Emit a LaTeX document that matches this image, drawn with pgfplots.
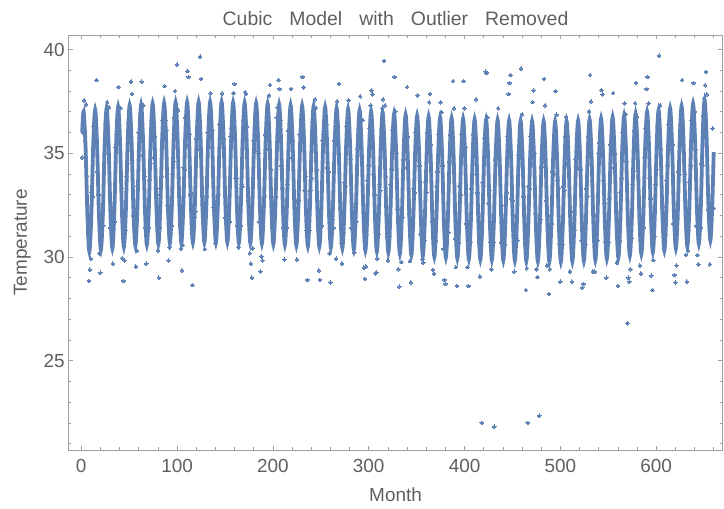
\documentclass[border=0pt]{standalone}
\usepackage{fontspec}
\setmainfont{Liberation Sans}
\usepackage{pgfplots}
\usepackage{pgfplotstable}
\pgfplotsset{compat=1.18}

\definecolor{mblue}{RGB}{94,129,181}
\definecolor{framegray}{RGB}{160,160,160}
\definecolor{labelgray}{RGB}{95,95,95}

% monthly temperatures
\pgfplotstableread{
t T
1 34.8
2 36.0
3 37.55
4 35.6
5 37.36
6 33.9
7 31.1
8 28.85
9 29.39
10 29.92
11 33.1
12 32.9
13 36.3
14 36.5
15 35.3
16 38.53
17 34.1
18 33.0
19 30.18
20 29.24
21 31.8
22 32.0
23 31.5
24 35.0
25 36.4
26 36.1
27 37.46
28 36.3
29 37.22
30 31.4
31 32.2
32 31.1
33 29.68
34 32.4
35 31.7
36 35.3
37 35.9
38 35.7
39 38.19
40 35.5
41 37.18
42 33.3
43 29.94
44 28.85
45 29.83
46 31.3
47 33.9
48 34.5
49 36.5
50 36.4
51 36.7
52 38.45
53 37.86
54 32.0
55 32.2
56 32.3
57 29.54
58 30.31
59 33.4
60 36.0
61 35.7
62 36.8
63 38.45
64 34.9
65 37.31
66 33.9
67 31.4
68 29.68
69 32.0
70 31.4
71 33.7
72 34.5
73 36.6
74 36.2
75 36.7
76 34.8
77 35.8
78 32.9
79 33.0
80 30.31
81 29.00
82 31.4
83 33.3
84 33.9
85 36.6
86 35.7
87 38.24
88 36.6
89 36.1
90 32.5
91 29.83
92 30.47
93 31.2
94 31.5
95 34.0
96 34.6
97 36.7
98 38.0
99 35.8
100 39.27
101 37.07
102 33.8
103 31.5
104 30.42
105 29.35
106 30.57
107 34.3
108 34.2
109 36.7
110 35.4
111 38.96
112 38.68
113 35.9
114 33.0
115 33.1
116 28.65
117 31.6
118 31.9
119 32.2
120 35.7
121 35.2
122 36.7
123 35.9
124 39.65
125 38.58
126 32.5
127 31.8
128 32.6
129 30.38
130 32.5
131 32.9
132 36.0
133 35.3
134 36.5
135 37.89
136 36.1
137 36.1
138 32.4
139 32.0
140 30.67
141 32.7
142 32.6
143 33.0
144 36.4
145 36.0
146 36.9
147 37.89
148 35.5
149 35.7
150 31.9
151 32.1
152 32.3
153 31.8
154 31.8
155 31.7
156 35.8
157 36.2
158 36.0
159 37.90
160 38.34
161 33.8
162 33.8
163 31.5
164 30.47
165 32.2
166 31.5
167 33.5
168 33.4
169 36.6
170 36.8
171 37.95
172 37.86
173 36.3
174 32.7
175 31.9
176 30.18
177 29.68
178 29.00
179 30.42
180 35.6
181 35.1
182 36.6
183 35.8
184 35.7
185 35.0
186 31.7
187 29.30
188 30.03
189 29.83
190 32.4
191 32.9
192 35.9
193 35.2
194 36.4
195 36.6
196 37.79
197 38.29
198 34.2
199 31.4
200 31.3
201 32.6
202 32.5
203 32.9
204 36.73
205 37.22
206 38.53
207 38.10
208 36.6
209 34.4
210 33.3
211 31.4
212 29.88
213 31.7
214 31.4
215 33.5
216 36.1
217 35.6
218 36.8
219 38.10
220 34.8
221 35.6
222 32.8
223 32.6
224 32.2
225 29.88
226 32.2
227 32.7
228 35.9
229 35.5
230 36.6
231 38.68
232 38.18
233 33.2
234 33.9
235 31.3
236 28.90
237 32.3
238 31.3
239 33.2
240 33.8
241 36.5
242 35.6
243 36.5
244 37.60
245 37.18
246 34.2
247 31.3
248 29.35
249 28.90
250 31.6
251 31.5
252 35.6
253 35.9
254 35.8
255 35.6
256 36.4
257 34.3
258 34.1
259 30.17
260 28.77
261 31.7
262 31.8
263 31.4
264 35.6
265 36.0
266 29.92
267 37.50
268 36.4
269 38.34
270 32.4
271 30.67
272 29.68
273 31.0
274 31.2
275 33.6
276 33.4
277 36.3
278 35.5
279 37.55
280 35.4
281 34.7
282 31.4
283 32.2
284 31.1
285 30.21
286 32.4
287 31.7
288 35.2
289 35.7
290 35.6
291 37.75
292 35.3
293 34.9
294 36.60
295 29.49
296 28.95
297 29.54
298 31.1
299 33.7
300 34.4
301 36.2
302 37.31
303 38.03
304 37.84
305 34.0
306 33.0
307 29.20
308 29.24
309 29.92
310 31.1
311 33.5
312 33.2
313 36.2
314 37.17
315 37.60
316 39.45
317 37.31
318 33.9
319 31.0
320 29.83
321 30.7
322 31.0
323 33.5
324 34.2
325 36.1
326 35.3
327 38.68
328 37.02
329 35.0
330 32.3
331 29.41
332 28.57
333 31.7
334 29.76
335 31.9
336 34.7
337 34.3
338 35.5
339 36.2
340 38.19
341 35.8
342 32.1
343 29.80
344 28.77
345 30.7
346 30.9
347 33.3
348 33.1
349 36.0
350 35.2
351 37.79
352 35.1
353 34.4
354 31.1
355 31.8
356 29.89
357 29.73
358 30.8
359 33.6
360 33.1
361 36.0
362 36.0
363 37.46
364 37.86
365 35.4
366 31.7
367 29.38
368 29.20
369 30.7
370 30.8
371 33.4
372 34.1
373 35.9
374 35.8
375 37.46
376 36.98
377 34.4
378 30.39
379 28.90
380 28.70
381 31.4
382 31.7
383 31.2
384 34.6
385 35.9
386 35.6
387 36.2
388 38.48
389 37.17
390 30.9
391 29.51
392 28.61
393 31.1
394 30.7
395 33.4
396 33.0
397 35.9
398 35.8
399 38.48
400 37.17
401 35.3
402 31.6
403 29.51
404 28.61
405 30.6
406 30.7
407 33.3
408 34.0
409 35.9
410 35.7
411 36.0
412 37.60
413 33.1
414 33.1
415 30.7
416 29.06
417 30.7
418 22.01
419 33.6
420 33.4
421 35.7
422 38.93
423 38.87
424 36.73
425 32.6
426 33.2
427 30.7
428 29.41
429 31.3
430 30.7
431 21.82
432 34.7
433 35.2
434 35.1
435 37.17
436 34.8
437 34.4
438 30.7
439 31.7
440 30.5
441 31.7
442 30.6
443 32.5
444 33.1
445 35.8
446 37.86
447 38.39
448 38.77
449 32.8
450 32.7
451 32.0
452 29.29
453 30.9
454 30.9
455 30.8
456 34.9
457 35.3
458 35.2
459 39.08
460 36.88
461 32.9
462 32.9
463 30.6
464 28.41
465 29.46
466 22.01
467 33.4
468 33.3
469 35.8
470 34.5
471 37.47
472 38.03
473 35.0
474 32.1
475 29.41
476 29.03
477 31.6
478 22.35
479 31.8
480 34.3
481 34.6
482 35.4
483 38.58
484 37.31
485 32.7
486 29.59
487 31.2
488 28.22
489 29.41
490 32.0
491 31.6
492 34.1
493 34.0
494 35.3
495 38.00
496 36.86
497 33.7
498 33.3
499 30.6
500 28.81
501 30.8
502 30.6
503 33.4
504 33.2
505 35.8
506 36.76
507 34.5
508 35.8
509 33.8
510 29.29
511 32.2
512 28.81
513 30.7
514 31.0
515 31.3
516 34.7
517 34.3
518 35.8
519 35.0
520 34.9
521 34.2
522 30.8
523 28.52
524 28.70
525 31.0
526 30.6
527 33.3
528 32.9
529 35.8
530 37.02
531 38.77
532 37.50
533 33.7
534 29.29
535 32.0
536 29.29
537 31.1
538 31.2
539 30.8
540 35.0
541 35.5
542 34.9
543 38.04
544 37.84
545 33.7
546 32.6
547 30.7
548 29.00
549 31.0
550 30.7
551 32.8
552 35.4
553 35.1
554 36.2
555 37.90
556 34.3
557 35.0
558 32.2
559 29.73
560 28.61
561 31.4
562 30.8
563 33.1
564 33.8
565 36.0
566 35.6
567 37.41
568 36.88
569 34.6
570 26.81
571 29.00
572 28.81
573 29.41
574 30.9
575 33.5
576 34.1
577 36.1
578 37.41
579 38.39
580 36.76
581 33.9
582 32.9
583 29.59
584 29.20
585 31.6
586 31.8
587 31.4
588 34.8
589 36.2
590 38.10
591 38.68
592 37.41
593 33.8
594 32.8
595 29.10
596 28.41
597 29.85
598 31.0
599 33.5
600 34.2
601 36.3
602 35.5
603 39.70
604 37.31
605 35.2
606 32.4
607 32.4
608 31.5
609 31.0
610 31.1
611 33.7
612 34.4
613 36.4
614 36.3
615 36.6
616 35.2
617 35.4
618 31.6
619 29.14
620 28.77
621 29.59
622 31.8
623 34.1
624 34.0
625 36.4
626 35.4
627 38.53
628 36.5
629 34.5
630 34.0
631 30.10
632 28.81
633 30.31
634 31.3
635 33.6
636 34.4
637 36.6
638 36.2
639 38.39
640 37.00
641 35.2
642 31.5
643 30.09
644 29.65
645 31.9
646 31.4
647 34.5
648 34.4
649 36.8
650 37.65
651 38.28
652 38.92
653 37.84
654 32.3
655 32.5
656 29.65
657 32.5
658 32.2
659 36.20
660 32.35
}\datapoints

% fitted cubic-trend + annual cycle, sampled every two months
\pgfplotstableread{
t T
1 36.01
2.5 37.02
4.5 35.33
6.5 31.95
8.5 30.26
10.5 31.95
12.5 35.41
14.5 37.10
16.5 35.41
18.5 32.03
20.5 30.34
22.5 32.03
24.5 35.49
26.5 37.18
28.5 35.49
30.5 32.11
32.5 30.42
34.5 32.11
36.5 35.55
38.5 37.24
40.5 35.55
42.5 32.17
44.5 30.48
46.5 32.17
48.5 35.61
50.5 37.30
52.5 35.61
54.5 32.23
56.5 30.54
58.5 32.23
60.5 35.66
62.5 37.35
64.5 35.66
66.5 32.28
68.5 30.59
70.5 32.28
72.5 35.70
74.5 37.39
76.5 35.70
78.5 32.32
80.5 30.63
82.5 32.32
84.5 35.74
86.5 37.43
88.5 35.74
90.5 32.36
92.5 30.67
94.5 32.36
96.5 35.76
98.5 37.45
100.5 35.76
102.5 32.38
104.5 30.69
106.5 32.38
108.5 35.77
110.5 37.46
112.5 35.77
114.5 32.39
116.5 30.70
118.5 32.39
120.5 35.78
122.5 37.47
124.5 35.78
126.5 32.40
128.5 30.71
130.5 32.40
132.5 35.78
134.5 37.47
136.5 35.78
138.5 32.40
140.5 30.71
142.5 32.40
144.5 35.78
146.5 37.47
148.5 35.78
150.5 32.40
152.5 30.71
154.5 32.40
156.5 35.76
158.5 37.45
160.5 35.76
162.5 32.38
164.5 30.69
166.5 32.38
168.5 35.74
170.5 37.43
172.5 35.74
174.5 32.36
176.5 30.67
178.5 32.36
180.5 35.72
182.5 37.41
184.5 35.72
186.5 32.34
188.5 30.65
190.5 32.34
192.5 35.69
194.5 37.38
196.5 35.69
198.5 32.31
200.5 30.62
202.5 32.31
204.5 35.66
206.5 37.35
208.5 35.66
210.5 32.28
212.5 30.59
214.5 32.28
216.5 35.63
218.5 37.32
220.5 35.63
222.5 32.25
224.5 30.56
226.5 32.25
228.5 35.60
230.5 37.29
232.5 35.60
234.5 32.22
236.5 30.53
238.5 32.22
240.5 35.57
242.5 37.26
244.5 35.57
246.5 32.19
248.5 30.50
250.5 32.19
252.5 35.54
254.5 37.23
256.5 35.54
258.5 32.16
260.5 30.47
262.5 32.16
264.5 35.49
266.5 37.18
268.5 35.49
270.5 32.11
272.5 30.42
274.5 32.11
276.5 35.44
278.5 37.13
280.5 35.44
282.5 32.06
284.5 30.37
286.5 32.06
288.5 35.39
290.5 37.08
292.5 35.39
294.5 32.01
296.5 30.32
298.5 32.01
300.5 35.34
302.5 37.03
304.5 35.34
306.5 31.96
308.5 30.27
310.5 31.96
312.5 35.28
314.5 36.97
316.5 35.28
318.5 31.90
320.5 30.21
322.5 31.90
324.5 35.22
326.5 36.91
328.5 35.22
330.5 31.84
332.5 30.15
334.5 31.84
336.5 35.17
338.5 36.86
340.5 35.17
342.5 31.79
344.5 30.10
346.5 31.79
348.5 35.12
350.5 36.81
352.5 35.12
354.5 31.74
356.5 30.05
358.5 31.74
360.5 35.08
362.5 36.77
364.5 35.08
366.5 31.70
368.5 30.01
370.5 31.70
372.5 35.04
374.5 36.73
376.5 35.04
378.5 31.66
380.5 29.97
382.5 31.66
384.5 35.00
386.5 36.69
388.5 35.00
390.5 31.62
392.5 29.93
394.5 31.62
396.5 34.97
398.5 36.66
400.5 34.97
402.5 31.59
404.5 29.90
406.5 31.59
408.5 34.95
410.5 36.64
412.5 34.95
414.5 31.57
416.5 29.88
418.5 31.57
420.5 34.93
422.5 36.62
424.5 34.93
426.5 31.55
428.5 29.86
430.5 31.55
432.5 34.91
434.5 36.60
436.5 34.91
438.5 31.53
440.5 29.84
442.5 31.53
444.5 34.89
446.5 36.58
448.5 34.89
450.5 31.51
452.5 29.82
454.5 31.51
456.5 34.87
458.5 36.56
460.5 34.87
462.5 31.49
464.5 29.80
466.5 31.49
468.5 34.86
470.5 36.55
472.5 34.86
474.5 31.48
476.5 29.79
478.5 31.48
480.5 34.85
482.5 36.54
484.5 34.85
486.5 31.47
488.5 29.78
490.5 31.47
492.5 34.84
494.5 36.53
496.5 34.84
498.5 31.46
500.5 29.77
502.5 31.46
504.5 34.85
506.5 36.54
508.5 34.85
510.5 31.47
512.5 29.78
514.5 31.47
516.5 34.88
518.5 36.57
520.5 34.88
522.5 31.50
524.5 29.81
526.5 31.50
528.5 34.93
530.5 36.62
532.5 34.93
534.5 31.55
536.5 29.86
538.5 31.55
540.5 34.98
542.5 36.67
544.5 34.98
546.5 31.60
548.5 29.91
550.5 31.60
552.5 35.05
554.5 36.74
556.5 35.05
558.5 31.67
560.5 29.98
562.5 31.67
564.5 35.13
566.5 36.82
568.5 35.13
570.5 31.75
572.5 30.06
574.5 31.75
576.5 35.22
578.5 36.91
580.5 35.22
582.5 31.84
584.5 30.15
586.5 31.84
588.5 35.31
590.5 37.00
592.5 35.31
594.5 31.93
596.5 30.24
598.5 31.93
600.5 35.39
602.5 37.08
604.5 35.39
606.5 32.01
608.5 30.32
610.5 32.01
612.5 35.48
614.5 37.17
616.5 35.48
618.5 32.10
620.5 30.41
622.5 32.10
624.5 35.58
626.5 37.27
628.5 35.58
630.5 32.20
632.5 30.51
634.5 32.20
636.5 35.70
638.5 37.39
640.5 35.70
642.5 32.32
644.5 30.63
646.5 32.32
648.5 35.87
650.5 37.56
652.5 35.87
654.5 32.49
656.5 30.80
658.5 32.49
660 35.06
}\modelfit

\begin{document}
\begin{tikzpicture}
\begin{axis}[
    name=ax,
    width=654.5bp, height=415bp, scale only axis,
    xmin=-13.5, xmax=669.5,
    ymin=20.7, ymax=40.7,
    xtick={0,100,...,600},
    ytick={25,30,35,40},
    minor xtick={20,40,...,660},
    minor ytick={21,22,...,40},
    tick align=inside,
    major tick length=4.5bp,
    minor tick length=2.7bp,
    tick style={draw=framegray, line width=0.7bp},
    axis line style={draw=framegray, line width=0.9bp},
    /pgf/number format/assume math mode=true,
    ticklabel style={font=\fontsize{19}{19}\selectfont, text=labelgray},
    xticklabel style={yshift=-6bp},
    xlabel={Month},
    ylabel={Temperature},
    xlabel shift=8bp,
    ylabel shift=6bp,
    label style={font=\fontsize{19}{19}\selectfont, text=labelgray},
    title={Cubic\hspace{0.6em} Model\hspace{0.6em} with\hspace{0.6em} Outlier\hspace{0.6em} Removed},
    title style={font=\fontsize{19.5}{19.5}\selectfont, text=labelgray},
    clip=false,
]
\addplot[mblue, only marks, mark=*, mark size=1.8bp, mark options={draw=mblue, fill=mblue, line width=0pt}] table[x=t, y=T] {\datapoints};
\addplot[mblue, line width=3.8bp, smooth, mark=none] table[x=t, y=T] {\modelfit};
\end{axis}
\pgfresetboundingbox
\path ([xshift=-68.3bp, yshift=-59bp]ax.south west) rectangle ++(724bp, 509bp);
\end{tikzpicture}
\end{document}
